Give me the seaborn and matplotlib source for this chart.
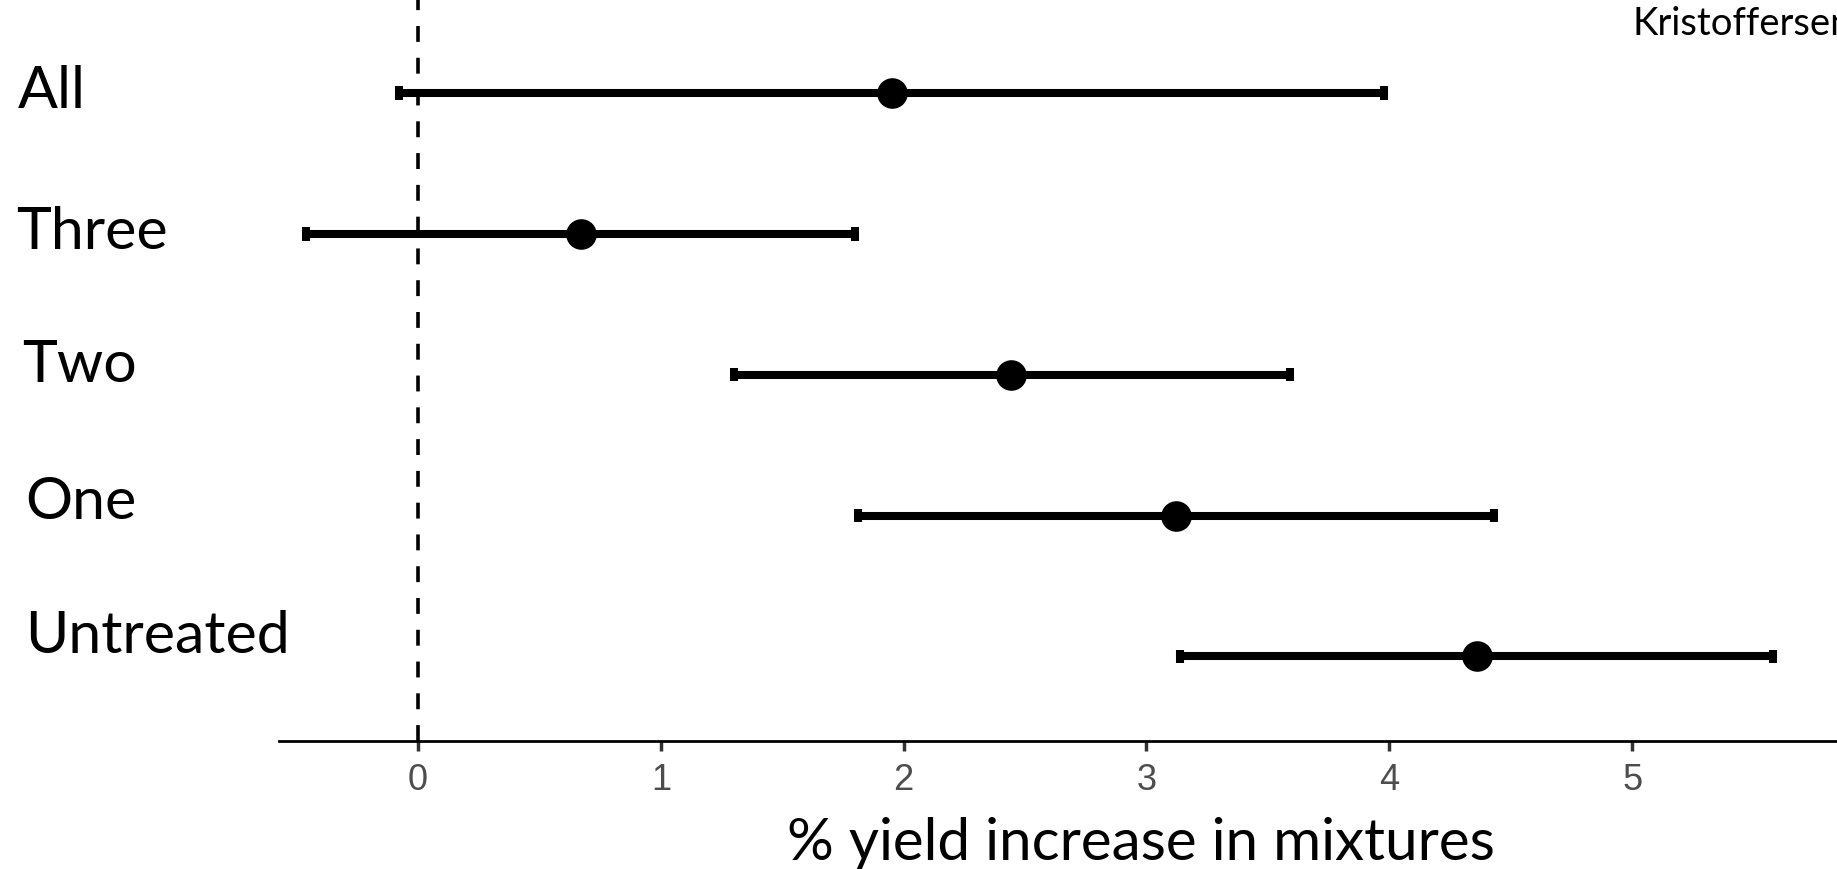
import matplotlib
matplotlib.use("Agg")
import matplotlib.pyplot as plt
import matplotlib.transforms as mtransforms
import pandas as pd
import seaborn as sns

# Estimated effect (%) with lower/upper interval per number of treatments
groups = ["All", "Three", "Two", "One", "Untreated"]
lower = [-0.08, -0.46, 1.30, 1.81, 3.14]
estimate = [1.95, 0.67, 2.44, 3.12, 4.36]
upper = [3.98, 1.80, 3.59, 4.43, 5.58]

x_ticks = [0, 1, 2, 3, 4, 5]
x_label = "% yield increase in mixtures"
corner_note = "Kristoffersen"

# long table: three values per group -> median is the estimate, min/max the interval
rows = []
for g, lo, est, hi in zip(groups, lower, estimate, upper):
    for v in (lo, est, hi):
        rows.append({"group": g, "value": v})
df = pd.DataFrame(rows)

sns.set_theme(style="white")
plt.rcParams["font.family"] = ["Lato", "DejaVu Sans"]
plt.rcParams["text.color"] = "black"

fig = plt.figure(figsize=(18.37, 8.70), dpi=100)
ax = fig.add_axes([279 / 1837, 1 - 742 / 870, 1 - 279 / 1837, 742 / 870])

sns.pointplot(
    data=df,
    x="value",
    y="group",
    order=groups,
    estimator="median",
    errorbar=("pi", 100),
    linestyle="none",
    color="black",
    markersize=20,
    capsize=0.095,
    err_kws={"linewidth": 5.8},
    ax=ax,
)
# same heavy stroke for interval lines and caps, square ends
for ln in ax.lines:
    ln.set_solid_capstyle("butt")
    if ln.get_marker() in (None, "None", ""):
        ln.set_linewidth(5.8)

ax.axvline(0, color="black", linewidth=2.6, linestyle=(0, (4.4, 4.4)), zorder=1)

ax.set_xlim(-0.573, 5.844)
ax.set_ylim(4.6, -0.667)
ax.set_xticks(x_ticks)
ax.set_xticklabels([str(t) for t in x_ticks], fontsize=26, color="#4d4d4d",
                   family=["Liberation Sans Narrow", "Liberation Sans", "DejaVu Sans"])
ax.tick_params(axis="x", length=7, width=2.5, color="#333333", pad=8, bottom=True)
ax.set_yticks([])
ax.set_ylabel("")
ax.set_xlabel(x_label, fontsize=42, color="black", labelpad=14)
ax.xaxis.label.set_x(0.553)

for side in ("top", "right", "left"):
    ax.spines[side].set_visible(False)
ax.spines["bottom"].set_color("black")
ax.spines["bottom"].set_linewidth(2)

# group names sit at the far left of the figure
label_x = [0.0095, 0.0088, 0.0118, 0.0138, 0.0138]
nudge = [0.02, 0.02, 0.07, 0.1, 0.15]
trans = mtransforms.blended_transform_factory(fig.transFigure, ax.transData)
for i, (g, lx, d) in enumerate(zip(groups, label_x, nudge)):
    ax.text(lx, i - d, g, transform=trans, fontsize=42.5, ha="left", va="center",
            color="black", clip_on=False)

# the source note runs off the right edge, as in the original slide
fig.text(1632 / 1837, 1 - 24 / 870, corner_note, fontsize=27.5, ha="left", va="center",
         color="black")

fig.savefig("out.png", dpi=100)
